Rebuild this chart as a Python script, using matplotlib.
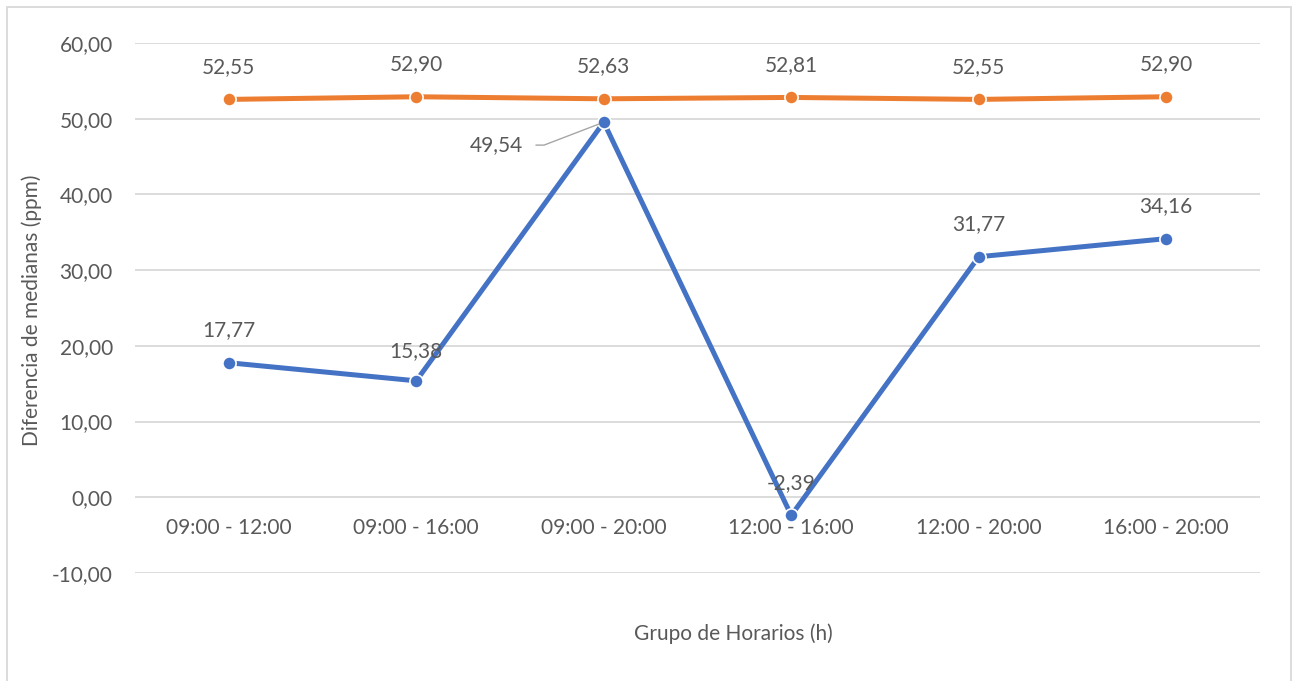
import matplotlib
matplotlib.use("Agg")
import matplotlib.pyplot as plt
from matplotlib.patches import Rectangle

# Time-window groups and median differences (ppm)
categories = ["09:00 - 12:00", "09:00 - 16:00", "09:00 - 20:00",
              "12:00 - 16:00", "12:00 - 20:00", "16:00 - 20:00"]
serie_naranja = [52.55, 52.90, 52.63, 52.81, 52.55, 52.90]
serie_azul = [17.77, 15.38, 49.54, -2.39, 31.77, 34.16]
y_ticks = [-10, 0, 10, 20, 30, 40, 50, 60]

BLUE = "#4472C4"
ORANGE = "#ED7D31"
GRID = "#D9D9D9"
TEXT = "#595959"
FONT = "Lato"
FS = 15

plt.rcParams["font.family"] = [FONT, "DejaVu Sans"]

W, H = 1292, 681
fig = plt.figure(figsize=(W / 100, H / 100), dpi=100)

# plot area in pixel coordinates
left, right, top, bottom = 135, 1260, 43, 573
ax = fig.add_axes([left / W, 1 - bottom / H, (right - left) / W, (bottom - top) / H])

x = list(range(len(categories)))
ax.set_xlim(-0.5, len(categories) - 0.5)
ax.set_ylim(-10, 60)
ax.set_yticks(y_ticks)
ax.set_yticklabels([f"{v:.2f}".replace(".", ",") for v in y_ticks])
ax.yaxis.grid(True, color=GRID, linewidth=1.3)
ax.set_axisbelow(True)
for s in ax.spines.values():
    s.set_visible(False)
ax.spines["bottom"].set_position(("data", 0))
ax.set_xticks(x)
ax.set_xticklabels(categories)
ax.tick_params(axis="both", length=0, labelsize=FS, labelcolor=TEXT)
ax.tick_params(axis="y", pad=16)
ax.tick_params(axis="x", pad=15)

line_kw = dict(linewidth=3.6, marker="o", markersize=9.5,
               markeredgecolor="white", markeredgewidth=1.2,
               solid_capstyle="round", clip_on=False)
ax.plot(x, serie_naranja, color=ORANGE, zorder=3, **line_kw)
ax.plot(x, serie_azul, color=BLUE, zorder=4, **line_kw)

def fmt(v):
    return f"{v:.2f}".replace(".", ",")

for xi, v in zip(x, serie_naranja):
    ax.annotate(fmt(v), (xi, v), xytext=(0, 23.5), textcoords="offset points",
                ha="center", va="center", fontsize=FS, color=TEXT, zorder=6)

for xi, v in zip(x, serie_azul):
    if xi == 2:
        # label moved aside, joined to its point by a leader line
        ax.annotate(fmt(v), (xi, v), xytext=(-77, -16.5), textcoords="offset points",
                    ha="center", va="center", fontsize=FS, color=TEXT, zorder=6,
                    arrowprops=dict(arrowstyle="-", color="#A6A6A6", lw=1,
                                    shrinkA=7, shrinkB=4, relpos=(1, 0.5),
                                    connectionstyle="angle,angleA=0,angleB=21,rad=0"))
    else:
        dy = 21.5 if xi == 1 else 23.5
        ax.annotate(fmt(v), (xi, v), xytext=(0, dy), textcoords="offset points",
                    ha="center", va="center", fontsize=FS, color=TEXT, zorder=6)

fig.text(32 / W, 1 - 310 / H, "Diferencia de medianas (ppm)", rotation=90,
         ha="center", va="center", fontsize=FS, color=TEXT)
fig.text(733 / W, 1 - 634 / H, "Grupo de Horarios (h)", ha="center", va="center",
         fontsize=FS, color=TEXT)

# chart frame
fig.patches.append(Rectangle((7 / W, -0.05), (1291 - 7) / W, 1 - 7 / H + 0.05,
                             transform=fig.transFigure, fill=False,
                             edgecolor=GRID, linewidth=1.3, zorder=0))

fig.savefig("out.png", dpi=100, facecolor="white")
